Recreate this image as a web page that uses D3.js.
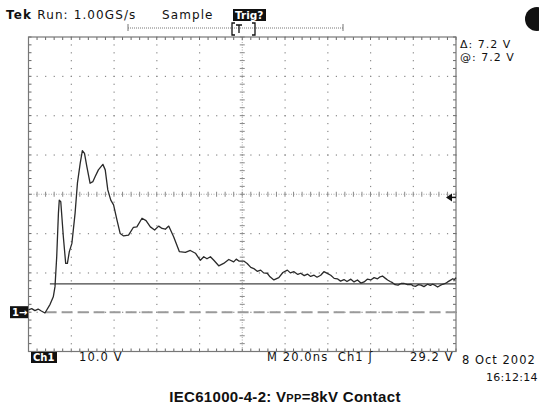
<!DOCTYPE html>
<html><head><meta charset="utf-8">
<script src="https://cdn.jsdelivr.net/npm/d3@7"></script>
<style>body{margin:0;background:#fff}svg{display:block}</style>
</head><body>
<svg id="c" width="539" height="407"></svg>
<script>
// ---- data ----
const timeNs = [0,1.5,3,4.5,6,7.7,10.1,11.6,12.4,13.2,14.0,14.4,15.1,16.3,17.4,18.2,19.1,20.3,21.8,22.9,24.2,25.2,26.2,27.3,28.8,30.1,31.2,32.7,34.8,35.9,37.1,38.5,39.8,41.4,42.9,44.5,46.8,49.1,50.7,53.1,55.0,57.0,59.0,60.9,62.5,64.0,65.6,67.9,70.6,73.4,75.7,78.1,80.4,82.0,83.5,85.1,86.7,89.0,91.3,93.7,96.0,97.2,98.4,100.7,102.3,104,105.4,107,108.6,110,111.7,113,114.8,117.1,119,121.1,122.5,124.2,126,127.3,129,130.5,132,133.6,135,136.7,138.2,140,141.4,143,144.5,146,147.6,149,150.8,152.3,153.9,155.5,157.0,158.5,160.1,161.7,163.3,164.5,165.6,167,168.0,169.2,170.3,171.5,172.9,174.3,175.8,177.3,178.9,180,181.2,182.4,183.6,185,186.7,188,189.1,190.3,191.4,192.6,193.8,195,196.1,197.3,198.5,199.3,200];
const voltsCh1 = [0.6,0.9,0.4,0.8,0.3,-0.2,2.0,3.9,6.5,14.1,25.2,28.5,28.1,19.2,12.4,12.4,15.4,17.5,25.2,32.9,37.9,41.1,40.4,37.0,32.8,33.2,34.5,36.2,37.6,36.2,31.1,28.5,27.3,23.4,20.0,19.4,19.6,21.6,21.7,23.9,23.3,21.7,20.9,21.9,21.3,21.1,21.9,19.2,15.4,15.2,15.7,15.0,13.2,14.1,13.6,14.1,13.2,11.8,12.4,13.4,12.8,13.5,13.0,13.0,12.4,11.4,11.1,10.4,10.7,10.0,9.9,9.0,8.2,8.8,10.1,10.7,10.0,10.3,9.6,9.9,9.3,9.7,9.1,9.4,8.9,9.4,10.3,9.8,9.4,8.6,8.5,7.9,8.3,7.8,8.4,7.7,8.2,7.4,7.7,8.4,8.2,8.8,8.5,9.0,9.2,8.6,8.2,7.8,7.5,7.0,6.9,7.3,7.3,7.0,7.1,6.7,6.6,7.0,6.9,6.5,7.1,6.8,7.1,6.8,6.4,6.8,7.1,7.3,7.7,8.1,8.5,8.3,8.8];
const cursorVolts = [7.2];
const triggerVolts = [29.2];
const timeDomain = [0, 200];      // 20 ns/div x 10
const voltDomain = [-10, 70];     // 10 V/div x 8
const headerTexts = ["Run: 1.00GS/s", "Sample", "Trig?"];
const readouts = ["\u0394: 7.2 V", "@: 7.2 V"];
const footerTexts = ["Ch1", "10.0 V", "M 20.0ns  Ch1 \u0283", "29.2 V", "8 Oct 2002", "16:12:14"];

// ---- layout ----
const L = 28.5, R = 456, T = 37, B = 351.5;
const svg = d3.select("#c");
const x = d3.scaleLinear().domain(timeDomain).range([L, R]);
const y = d3.scaleLinear().domain(voltDomain).range([B, T]);
const grid = svg.append("g");
const gcol = "#8a8a8a";
const xMajor = d3.range(timeDomain[0], timeDomain[1] + 1, 20);
const yMajor = d3.range(voltDomain[0], voltDomain[1] + 1, 10);
const xMinor = d3.range(timeDomain[0], timeDomain[1] + 0.01, 4);
const yMinor = d3.range(voltDomain[0], voltDomain[1] + 0.01, 2);
const xc = 100, yc = 30;

xMajor.slice(1, -1).forEach(t => {
  if (t === xc) return;
  yMinor.forEach(v => grid.append("rect").attr("x", x(t) - 0.5).attr("y", y(v) - 0.5).attr("width", 1.2).attr("height", 1.2).attr("fill", gcol));
});
yMajor.slice(1, -1).forEach(v => {
  if (v === yc) return;
  xMinor.forEach(t => grid.append("rect").attr("x", x(t) - 0.5).attr("y", y(v) - 0.5).attr("width", 1.2).attr("height", 1.2).attr("fill", gcol));
});
grid.append("line").attr("x1", x(xc)).attr("x2", x(xc)).attr("y1", T).attr("y2", B).attr("stroke", "#aaa").attr("stroke-dasharray", "1,1.5").attr("stroke-width", 1);
grid.append("line").attr("x1", L).attr("x2", R).attr("y1", y(yc)).attr("y2", y(yc)).attr("stroke", "#aaa").attr("stroke-dasharray", "1,1.5").attr("stroke-width", 1);
yMinor.forEach(v => grid.append("line").attr("x1", x(xc) - 2.5).attr("x2", x(xc) + 2.5).attr("y1", y(v)).attr("y2", y(v)).attr("stroke", gcol));
xMinor.forEach(t => grid.append("line").attr("x1", x(t)).attr("x2", x(t)).attr("y1", y(yc) - 2.5).attr("y2", y(yc) + 2.5).attr("stroke", gcol));
xMinor.forEach(t => {
  grid.append("line").attr("x1", x(t)).attr("x2", x(t)).attr("y1", T).attr("y2", T + 3).attr("stroke", "#666");
  grid.append("line").attr("x1", x(t)).attr("x2", x(t)).attr("y1", B).attr("y2", B - 3).attr("stroke", "#666");
});
yMinor.forEach(v => {
  grid.append("line").attr("x1", L).attr("x2", L + 3).attr("y1", y(v)).attr("y2", y(v)).attr("stroke", "#666");
  grid.append("line").attr("x1", R).attr("x2", R - 3).attr("y1", y(v)).attr("y2", y(v)).attr("stroke", "#666");
});
svg.append("rect").attr("x", L).attr("y", T).attr("width", R - L).attr("height", B - T).attr("fill", "none").attr("stroke", "#777").attr("stroke-width", 1.2);

svg.append("line").attr("x1", x(8)).attr("x2", R).attr("y1", y(0)).attr("y2", y(0)).attr("stroke", "#9a9a9a").attr("stroke-width", 2).attr("stroke-dasharray", "11,5");
cursorVolts.forEach(v => svg.append("line").attr("x1", x(10)).attr("x2", R).attr("y1", y(v)).attr("y2", y(v)).attr("stroke", "#444").attr("stroke-width", 1.2));

const line = d3.line().x((d, i) => x(timeNs[i])).y(d => y(d));
svg.append("path").datum(voltsCh1).attr("d", line).attr("fill", "none").attr("stroke", "#2a2a2a").attr("stroke-width", 1.3).attr("stroke-linejoin", "round");

triggerVolts.forEach(v => {
  const ty = y(v);
  svg.append("path").attr("d", `M${R - 10},${ty} L${R - 4},${ty - 4} L${R - 4},${ty + 4} Z`).attr("fill", "#111");
  svg.append("line").attr("x1", R - 5).attr("x2", R).attr("y1", ty).attr("y2", ty).attr("stroke", "#111").attr("stroke-width", 1.5);
});
const gy = y(0);
svg.append("rect").attr("x", 10).attr("y", gy - 6).attr("width", 18).attr("height", 12).attr("fill", "#111");
svg.append("text").attr("x", 12).attr("y", gy + 4).attr("fill", "#fff").attr("font-family", "DejaVu Sans").attr("font-weight", "bold").attr("font-size", 10).text("1\u2192");

// header
const f = "DejaVu Sans";
const ls = 1.1;
const hdr = svg.append("text").attr("x", 6).attr("y", 19).attr("font-family", f).attr("font-size", 12).attr("letter-spacing", ls).attr("fill", "#111");
hdr.append("tspan").attr("font-weight", "bold").text("Tek ");
hdr.append("tspan").text(headerTexts[0]);
svg.append("text").attr("x", 162).attr("y", 19).attr("font-family", f).attr("font-size", 12).attr("letter-spacing", ls).attr("fill", "#111").text(headerTexts[1]);
svg.append("rect").attr("x", 233).attr("y", 9).attr("width", 33).attr("height", 12).attr("fill", "#111");
svg.append("text").attr("x", 235).attr("y", 19).attr("font-family", f).attr("font-weight", "bold").attr("font-size", 10.5).attr("fill", "#fff").text(headerTexts[2]);
svg.append("line").attr("x1", 128).attr("x2", 343).attr("y1", 28).attr("y2", 28).attr("stroke", "#777").attr("stroke-dasharray", "1,1");
svg.append("line").attr("x1", 128).attr("x2", 128).attr("y1", 24).attr("y2", 31).attr("stroke", "#777");
svg.append("line").attr("x1", 343).attr("x2", 343).attr("y1", 24).attr("y2", 31).attr("stroke", "#777");
svg.append("path").attr("d", "M235,23 L232,23 L232,35 L235,35 M252,23 L255,23 L255,35 L252,35").attr("fill", "none").attr("stroke", "#111").attr("stroke-width", 1.3);
svg.append("path").attr("d", "M236,25 L242,25 M239,25 L239,33").attr("fill", "none").attr("stroke", "#111").attr("stroke-width", 1.3);
svg.append("circle").attr("cx", 537).attr("cy", 19).attr("r", 12).attr("fill", "#111");

// readouts
readouts.forEach((s, i) => svg.append("text").attr("x", 460).attr("y", 48 + i * 13).attr("font-family", f).attr("font-size", 11).attr("letter-spacing", 1.0).attr("fill", "#111").text(s));

// footer
svg.append("rect").attr("x", 31).attr("y", 352).attr("width", 26).attr("height", 11).attr("fill", "#111");
svg.append("text").attr("x", 33).attr("y", 361).attr("font-family", f).attr("font-weight", "bold").attr("font-size", 10).attr("fill", "#fff").text(footerTexts[0]);
const ft = (s, xx, yy, sp, fs) => svg.append("text").attr("x", xx).attr("y", yy).attr("font-family", f).attr("font-size", fs).attr("letter-spacing", sp).attr("fill", "#111").attr("xml:space", "preserve").text(s);
ft(footerTexts[1], 79, 361, 1.1, 11.5);
ft(footerTexts[2], 267, 361, 1.1, 11.5);
ft(footerTexts[3], 410, 361, 1.1, 11.5);
ft(footerTexts[4], 462, 364, 1.0, 11.5);
ft(footerTexts[5], 486, 381, 0.3, 11);

// title
const tt = svg.append("text").attr("x", 285).attr("y", 402).attr("text-anchor", "middle").attr("font-family", "Liberation Sans, Arial").attr("font-weight", "bold").attr("font-size", 15).attr("letter-spacing", 0.3).attr("fill", "#111");
tt.append("tspan").text("IEC61000-4-2: V");
tt.append("tspan").attr("font-size", 11).text("PP");
tt.append("tspan").text("=8kV Contact");
</script>
</body></html>
